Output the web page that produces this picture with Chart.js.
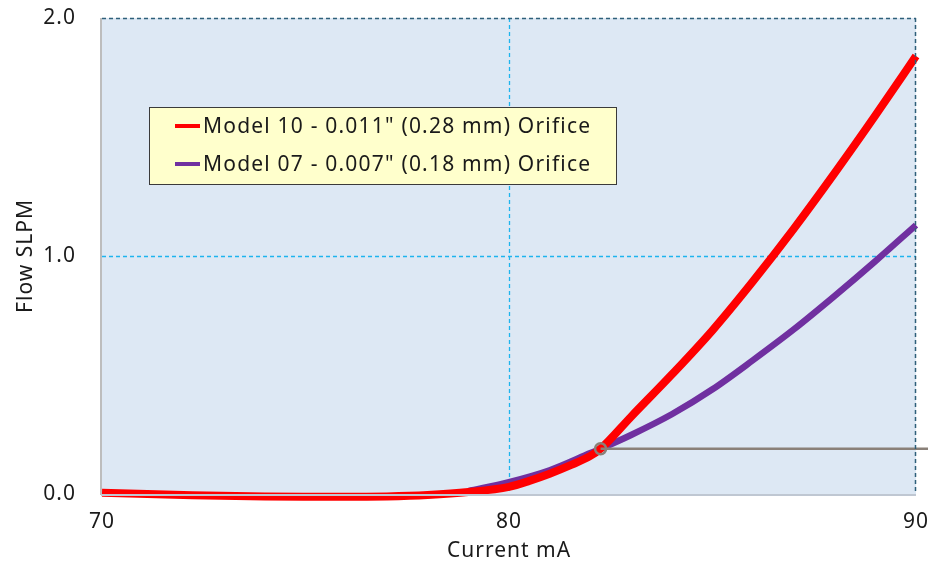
<!DOCTYPE html>
<html>
<head>
<meta charset="utf-8">
<script src="https://cdn.jsdelivr.net/npm/chart.js@4"></script>
<style>
html,body{margin:0;padding:0;background:#fff;}
#wrap{width:928px;height:567px;position:relative;}
</style>
</head>
<body>
<div id="wrap"><canvas id="c" width="928" height="567"></canvas></div>
<script>
// ---- data ----
const seriesLabels = ['Model 10 - 0.011" (0.28 mm) Orifice', 'Model 07 - 0.007" (0.18 mm) Orifice'];
const model10Current = [70, 72, 74, 75, 76, 77, 78, 79, 80, 80.5, 81, 81.5, 82, 82.25, 83, 84, 85, 86, 87, 88, 89, 90];
const model10Flow    = [0.005, -0.004, -0.011, -0.012, -0.012, -0.010, -0.004, 0.008, 0.030, 0.055, 0.085, 0.120, 0.160, 0.190, 0.325, 0.502, 0.688, 0.895, 1.115, 1.348, 1.590, 1.840];
const model07Current = [79, 80, 81, 82, 82.25, 83, 84, 85, 86, 87, 88, 89, 90];
const model07Flow    = [0.012, 0.050, 0.100, 0.172, 0.190, 0.248, 0.335, 0.440, 0.563, 0.692, 0.832, 0.978, 1.130];
const markerCurrent = [82.25, 90.3];
const markerFlow    = [0.190, 0.190];
const xTicks = [70, 80, 90];
const yTicks = [0.0, 1.0, 2.0];
const xGridAt = [80];
const yGridAt = [1.0];

const toPts = (xs, ys) => xs.map((x, i) => ({x: x, y: ys[i]}));
const FONT = 'Noto Sans';
const SPACING = '1px';

const zeroPad = s => { s.paddingLeft = 0; s.paddingRight = 0; s.paddingTop = 0; s.paddingBottom = 0; };

const plotBg = {
  id: 'plotBg',
  beforeInit(chart) { chart.ctx.letterSpacing = SPACING; },
  beforeLayout(chart) { chart.ctx.letterSpacing = SPACING; },
  beforeDraw(chart) {
    const {ctx, chartArea: a} = chart;
    ctx.letterSpacing = SPACING;
    ctx.save();
    ctx.fillStyle = '#DDE8F4';
    ctx.fillRect(a.left, a.top, a.right - a.left, a.bottom - a.top);
    // dashed grid lines
    const xs = chart.scales.x, ys = chart.scales.y;
    ctx.strokeStyle = '#1EB4EE';
    ctx.lineWidth = 1.3;
    ctx.setLineDash([4, 3]);
    ctx.beginPath();
    xGridAt.forEach(v => { const p = Math.round(xs.getPixelForValue(v)) + 0.5; ctx.moveTo(p, a.top); ctx.lineTo(p, a.bottom); });
    yGridAt.forEach(v => { const p = Math.round(ys.getPixelForValue(v)) + 0.5; ctx.moveTo(a.left, p); ctx.lineTo(a.right, p); });
    ctx.stroke();
    ctx.restore();
  },
  afterDatasetsDraw(chart) {
    const {ctx, chartArea: a} = chart;
    ctx.save();
    // top and right dashed borders
    ctx.lineWidth = 1.5;
    ctx.strokeStyle = '#2F5F7A';
    ctx.setLineDash([4, 3]);
    ctx.beginPath();
    ctx.moveTo(a.left, a.top + 0.5); ctx.lineTo(a.right, a.top + 0.5);
    ctx.moveTo(a.right - 0.5, a.top); ctx.lineTo(a.right - 0.5, a.bottom);
    ctx.stroke();
    ctx.setLineDash([]);
    // left and bottom solid axes
    ctx.lineWidth = 2;
    ctx.strokeStyle = '#BDBDBD';
    ctx.beginPath();
    ctx.moveTo(a.left - 1, a.top); ctx.lineTo(a.left - 1, a.bottom + 1);
    ctx.stroke();
    ctx.strokeStyle = '#BFC7D2';
    ctx.beginPath();
    ctx.moveTo(a.left - 1, a.bottom + 1); ctx.lineTo(a.right, a.bottom + 1);
    ctx.stroke();

    // legend box
    const ds = chart.data.datasets.filter(d => !d.hideLegend);
    const bx = a.left + 47, by = a.top + 89, bw = 467, bh = 77;
    ctx.fillStyle = '#FFFFCC';
    ctx.fillRect(bx, by, bw, bh);
    ctx.strokeStyle = '#3A3A3A';
    ctx.lineWidth = 1;
    ctx.strokeRect(bx + 0.5, by + 0.5, bw, bh);
    ctx.font = '21px "' + FONT + '"';
    ctx.letterSpacing = '1.2px';
    ctx.textBaseline = 'middle';
    ctx.textAlign = 'left';
    ds.forEach((d, i) => {
      const y = by + 19 + i * 38;
      ctx.strokeStyle = d.borderColor;
      ctx.lineWidth = 4;
      ctx.beginPath();
      ctx.moveTo(bx + 26, y); ctx.lineTo(bx + 51, y);
      ctx.stroke();
      ctx.fillStyle = '#1a1a1a';
      ctx.fillText(d.label, bx + 54, y + 1);
    });
    ctx.restore();
  }
};

new Chart(document.getElementById('c'), {
  type: 'line',
  data: {
    datasets: [
      {
        label: 'marker',
        hideLegend: true,
        data: toPts(markerCurrent, markerFlow),
        borderColor: '#8A8078',
        borderWidth: 2.5,
        pointRadius: c => (c.dataIndex === 0 ? 5.5 : 0),
        pointBorderWidth: 2.5,
        pointBorderColor: '#8A8078',
        pointBackgroundColor: 'rgba(0,0,0,0)',
        clip: false,
        order: 0
      },
      {
        label: seriesLabels[0],
        data: toPts(model10Current, model10Flow),
        borderColor: '#FF0000',
        borderWidth: 8,
        pointRadius: 0,
        cubicInterpolationMode: 'monotone',
        clip: false,
        order: 1
      },
      {
        label: seriesLabels[1],
        data: toPts(model07Current, model07Flow),
        borderColor: '#7030A0',
        borderWidth: 6.5,
        pointRadius: 0,
        cubicInterpolationMode: 'monotone',
        clip: false,
        order: 2
      }
    ]
  },
  options: {
    responsive: false,
    animation: false,
    events: [],
    layout: {padding: {top: 18, right: 12, left: 0, bottom: 0}},
    plugins: {legend: {display: false}, tooltip: {enabled: false}},
    scales: {
      x: {
        type: 'linear',
        min: 70, max: 90,
        afterBuildTicks: s => { s.ticks = xTicks.map(v => ({value: v})); },
        afterFit: s => { s.height = 73; zeroPad(s); },
        border: {display: false},
        grid: {drawTicks: false, color: 'rgba(0,0,0,0)'},
        ticks: {color: '#1a1a1a', font: {family: FONT, size: 21}, padding: 15, maxRotation: 0, callback: v => String(v)},
        title: {display: true, text: 'Current mA', color: '#1a1a1a', font: {family: FONT, size: 21}, padding: {top: 0, bottom: 3}}
      },
      y: {
        min: 0, max: 2,
        afterBuildTicks: s => { s.ticks = yTicks.map(v => ({value: v})); },
        afterFit: s => { s.width = 102; zeroPad(s); },
        border: {display: false},
        grid: {drawTicks: false, color: 'rgba(0,0,0,0)'},
        ticks: {color: '#1a1a1a', font: {family: FONT, size: 21}, padding: 26, callback: v => Number(v).toFixed(1)},
        title: {display: true, text: 'Flow SLPM', color: '#1a1a1a', font: {family: FONT, size: 21}, padding: {top: 13, bottom: 0}}
      }
    }
  },
  plugins: [plotBg]
});
</script>
</body>
</html>
